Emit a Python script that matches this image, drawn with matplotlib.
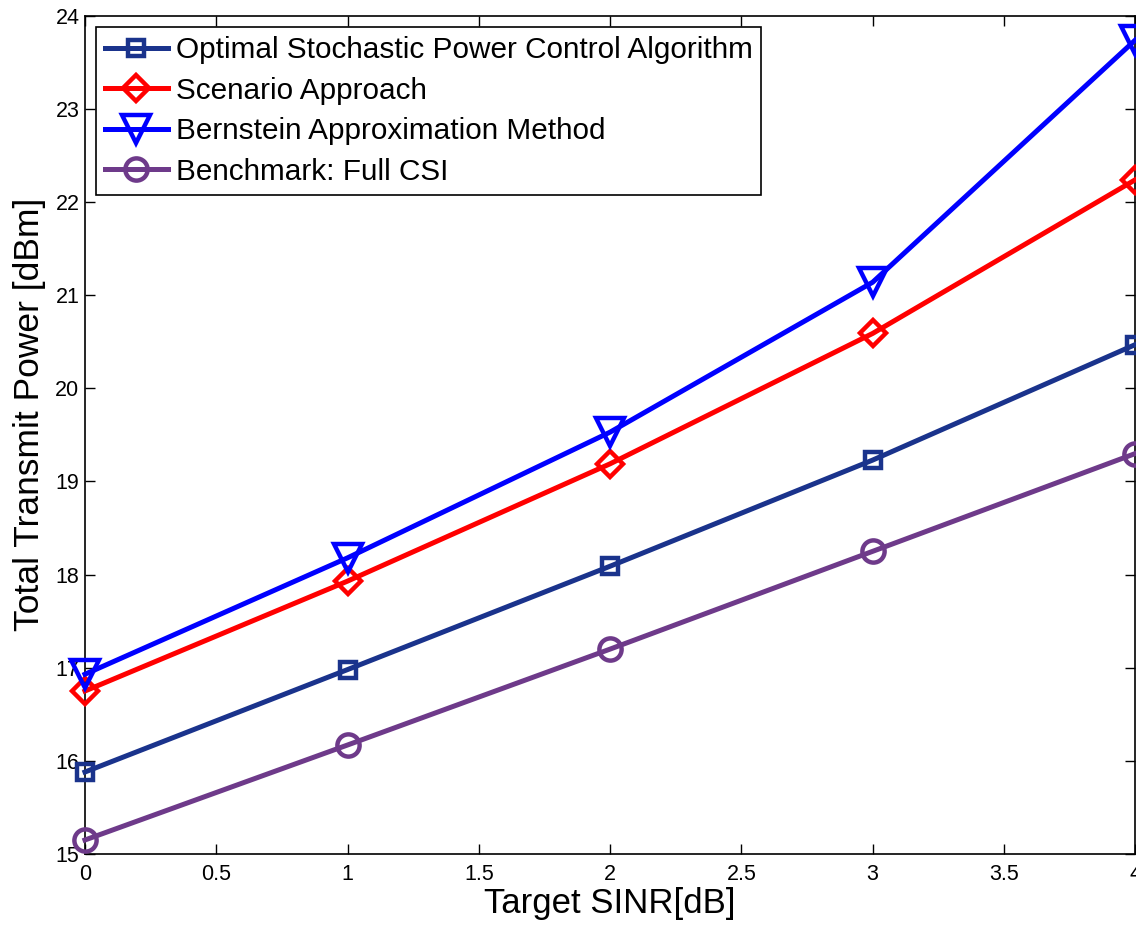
import matplotlib.pyplot as plt
from matplotlib.ticker import FormatStrFormatter, MultipleLocator

plt.rcParams['font.family'] = ['Liberation Sans', 'DejaVu Sans']

# 目标SINR
sinr = [0, 1, 2, 3, 4]
# 各方法的总发射功率
optimal = [15.88, 16.98, 18.09, 19.23, 20.47]
scenario = [16.75, 17.93, 19.19, 20.59, 22.24]
bernstein = [16.93, 18.18, 19.53, 21.14, 23.74]
benchmark = [15.15, 16.17, 17.20, 18.25, 19.30]

labels = ['Optimal Stochastic Power Control Algorithm',
          'Scenario Approach',
          'Bernstein Approximation Method',
          'Benchmark: Full CSI']


def main():
    fig = plt.figure(figsize=(11.36, 9.26), dpi=100)
    ax = fig.add_axes([0.0748, 0.0778, 0.9245, 0.905])

    lw = 3.6
    mew = 3.2
    ax.plot(sinr, optimal, color='#1a338c', lw=lw, marker='s', ms=12,
            mfc='none', mew=mew, clip_on=False, zorder=3, label=labels[0])
    ax.plot(sinr, scenario, color='#ff0000', lw=lw, marker='D', ms=13,
            mfc='none', mew=mew, clip_on=False, zorder=3, label=labels[1])
    ax.plot(sinr, bernstein, color='#0000ff', lw=lw, marker='v', ms=20,
            mfc='none', mew=mew, clip_on=False, zorder=3, label=labels[2])
    ax.plot(sinr, benchmark, color='#6e3a8a', lw=lw, marker='o', ms=16,
            mfc='none', mew=mew, clip_on=False, zorder=3, label=labels[3])

    ax.set_xlim(0, 4)
    ax.set_ylim(15, 24)
    ax.xaxis.set_major_locator(MultipleLocator(0.5))
    ax.yaxis.set_major_locator(MultipleLocator(1))
    ax.xaxis.set_major_formatter(FormatStrFormatter('%g'))
    ax.yaxis.set_major_formatter(FormatStrFormatter('%g'))
    ax.tick_params(direction='in', length=7, width=1, top=True, right=True,
                   labelsize=15.5)
    ax.tick_params(axis='x', pad=7)
    ax.tick_params(axis='y', pad=4)
    for s in ax.spines.values():
        s.set_linewidth(1.2)

    ax.set_xlabel('Target SINR[dB]', fontsize=25, labelpad=2)
    ax.set_ylabel('Total Transmit Power [dBm]', fontsize=25.5)
    ax.yaxis.set_label_coords(-0.037, 0.524)

    leg = ax.legend(loc='upper left', fontsize=21.4, frameon=True, fancybox=False,
                    edgecolor='black', framealpha=1, handlelength=2.1,
                    borderaxespad=0.38, labelspacing=0.42, handletextpad=0.27,
                    borderpad=0.3)
    leg.get_frame().set_linewidth(1.2)

    fig.savefig('out.png', dpi=100)


if __name__ == '__main__':
    main()
